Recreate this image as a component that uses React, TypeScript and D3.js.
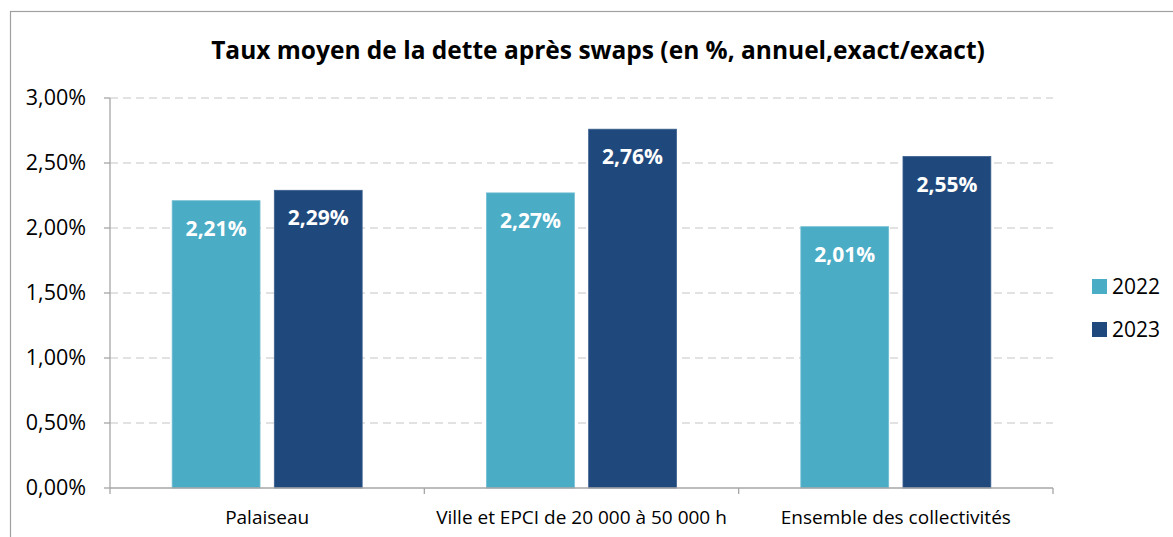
import React from 'react';
import * as d3 from 'd3';

const categories = ['Palaiseau', 'Ville et EPCI de 20 000 à 50 000 h', 'Ensemble des collectivités'];
const years = ['2022', '2023'];
const values2022 = [2.21, 2.27, 2.01];
const values2023 = [2.29, 2.76, 2.55];
const yTicks = [0, 0.5, 1, 1.5, 2, 2.5, 3];

const colors = ['#4BACC6', '#1F497D'];
const font = '"Open Sans", "Noto Sans", sans-serif';

const W = 1173;
const H = 537;
const plot = {left: 110, right: 1053, top: 98, bottom: 488};

const fmt = (v: number) => v.toFixed(2).replace('.', ',') + '%';

export default function App() {
  const x = d3.scaleBand<string>().domain(categories).range([plot.left, plot.right]);
  const y = d3.scaleLinear().domain([0, 3]).range([plot.bottom, plot.top]);
  // inner band for the two series, 190px wide out of ~314
  const x1 = d3
    .scaleBand<string>()
    .domain(years)
    .range([0, 190])
    .paddingInner(0.14);
  const groupOffset = (x.bandwidth() - 190) / 2;
  const series = [values2022, values2023];

  return (
    <svg width={W} height={H} style={{position: 'absolute', left: 0, top: 0}}>
      <rect x={0} y={0} width={W} height={H} fill="#fff" />
      <rect x={10.5} y={11.5} width={W + 10} height={H + 10} fill="none" stroke="#a0a0a0" strokeWidth={1.2} />

      <text x={598} y={59} textAnchor="middle" fontFamily={font} fontWeight="bold" fontSize={24.5} fill="#000">
        Taux moyen de la dette après swaps (en %, annuel,exact/exact)
      </text>

      {/* grid */}
      {yTicks.slice(1).map(t => (
        <line
          key={t}
          x1={plot.left}
          x2={plot.right}
          y1={y(t)}
          y2={y(t)}
          stroke="#d9d9d9"
          strokeWidth={1.3}
          strokeDasharray="8 5"
        />
      ))}

      {/* bars */}
      {categories.map((c, i) => (
        <g key={c} transform={`translate(${(x(c) || 0) + groupOffset},0)`}>
          {years.map((yr, j) => {
            const v = series[j][i];
            const bx = x1(yr) || 0;
            return (
              <g key={yr}>
                <rect
                  x={bx}
                  y={y(v)}
                  width={x1.bandwidth()}
                  height={y(0) - y(v)}
                  fill={colors[j]}
                  stroke={j === 0 ? '#6fbdd2' : '#3b5f8d'}
                  strokeWidth={0.8}
                />
                <text
                  x={bx + x1.bandwidth() / 2}
                  y={y(v) + 35}
                  textAnchor="middle"
                  fontFamily={font}
                  fontWeight="bold"
                  fontSize={21}
                  fill="#fff"
                >
                  {fmt(v)}
                </text>
              </g>
            );
          })}
        </g>
      ))}

      {/* y axis */}
      <line x1={plot.left} x2={plot.left} y1={plot.top} y2={plot.bottom} stroke="#a6a6a6" strokeWidth={1.3} />
      {yTicks.map(t => (
        <g key={t}>
          <line x1={plot.left - 6} x2={plot.left} y1={y(t)} y2={y(t)} stroke="#a6a6a6" strokeWidth={1.3} />
          <text x={86} y={y(t) + 7} textAnchor="end" fontFamily={font} fontSize={21.5} fill="#000">
            {fmt(t)}
          </text>
        </g>
      ))}

      {/* x axis */}
      <line x1={plot.left} x2={plot.right} y1={plot.bottom} y2={plot.bottom} stroke="#a6a6a6" strokeWidth={1.3} />
      {[...categories.map(c => x(c) || 0), plot.right].map((tx, i) => (
        <line key={i} x1={tx} x2={tx} y1={plot.bottom} y2={plot.bottom + 6} stroke="#a6a6a6" strokeWidth={1.3} />
      ))}
      {categories.map(c => (
        <text
          key={c}
          x={(x(c) || 0) + x.bandwidth() / 2}
          y={524}
          textAnchor="middle"
          fontFamily={font}
          fontSize={19}
          fill="#000"
        >
          {c}
        </text>
      ))}

      {/* legend */}
      {years.map((yr, j) => (
        <g key={yr} transform={`translate(1092,${279 + j * 43})`}>
          <rect x={0} y={0} width={15} height={15} fill={colors[j]} />
          <text x={20} y={15} fontFamily={font} fontSize={21} fill="#000">
            {yr}
          </text>
        </g>
      ))}
    </svg>
  );
}
